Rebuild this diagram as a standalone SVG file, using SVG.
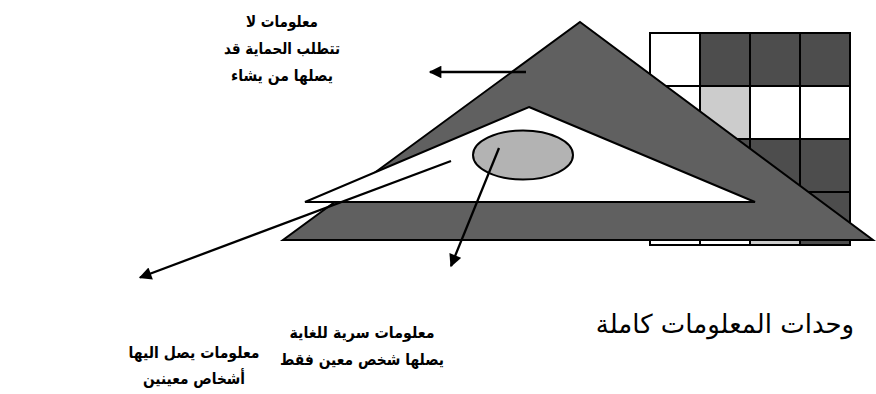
<svg xmlns="http://www.w3.org/2000/svg" width="876" height="394" viewBox="0 0 876 394">
<style>
.cell{stroke:#000;stroke-width:2}
.dk{fill:#4d4d4d}.lt{fill:#cccccc}.wh{fill:#fff}
.lbl{font-family:"DejaVu Sans","Liberation Sans",sans-serif;font-weight:bold;font-size:16px;fill:#000;text-anchor:middle}
.big{font-family:"DejaVu Sans","Liberation Sans",sans-serif;font-size:26px;fill:#000;text-anchor:middle}
.conn{stroke:#000;stroke-width:2.3;fill:none}
</style>
<defs>
<marker id="ah" viewBox="0 0 10 10" refX="9" refY="5" markerWidth="6.5" markerHeight="5.5" markerUnits="strokeWidth" orient="auto">
<path d="M0,0 L10,5 L0,10 Z" fill="#000"/>
</marker>
</defs>
<rect width="876" height="394" fill="#fff"/>
<g id="grid">
<rect class="cell wh" x="650" y="33" width="50" height="53"/>
<rect class="cell dk" x="700" y="33" width="50" height="53"/>
<rect class="cell dk" x="750" y="33" width="50" height="53"/>
<rect class="cell dk" x="800" y="33" width="50" height="53"/>
<rect class="cell wh" x="650" y="86" width="50" height="53"/>
<rect class="cell lt" x="700" y="86" width="50" height="53"/>
<rect class="cell wh" x="750" y="86" width="50" height="53"/>
<rect class="cell wh" x="800" y="86" width="50" height="53"/>
<rect class="cell wh" x="650" y="139" width="50" height="53"/>
<rect class="cell dk" x="700" y="139" width="50" height="53"/>
<rect class="cell dk" x="750" y="139" width="50" height="53"/>
<rect class="cell dk" x="800" y="139" width="50" height="53"/>
<rect class="cell wh" x="650" y="192" width="50" height="53"/>
<rect class="cell wh" x="700" y="192" width="50" height="53"/>
<rect class="cell lt" x="750" y="192" width="50" height="53"/>
<rect class="cell dk" x="800" y="192" width="50" height="53"/>
</g>
<g id="outer-triangle">
<polygon points="580,22 873,240 283,240" fill="#606060" stroke="#000" stroke-width="2" stroke-linejoin="miter"/>
</g>
<g id="inner-triangle">
<polygon points="529,107 755,202 305,202" fill="#fff" stroke="#000" stroke-width="2"/>
</g>
<g id="ellipse">
<ellipse cx="523" cy="155" rx="50" ry="24.5" fill="#b3b3b3" stroke="#000" stroke-width="2"/>
</g>
<g id="connectors">
<line class="conn" x1="526" y1="72" x2="430" y2="72" marker-end="url(#ah)"/>
<line class="conn" x1="451" y1="161" x2="140" y2="277.5" marker-end="url(#ah)"/>
<line class="conn" x1="499" y1="148" x2="451" y2="266" marker-end="url(#ah)"/>
</g>
<g id="label-public">
<text class="lbl" x="282" y="27" textLength="72" lengthAdjust="spacingAndGlyphs">معلومات لا</text>
<text class="lbl" x="282" y="54" textLength="116" lengthAdjust="spacingAndGlyphs">تتطلب الحماية قد</text>
<text class="lbl" x="282" y="81" textLength="102" lengthAdjust="spacingAndGlyphs">يصلها من يشاء</text>
</g>
<g id="label-restricted">
<text class="lbl" x="194" y="358" textLength="131" lengthAdjust="spacingAndGlyphs">معلومات يصل اليها</text>
<text class="lbl" x="194" y="384" textLength="102" lengthAdjust="spacingAndGlyphs">أشخاص معينين</text>
</g>
<g id="label-secret">
<text class="lbl" x="362" y="338" textLength="145" lengthAdjust="spacingAndGlyphs">معلومات سرية للغاية</text>
<text class="lbl" x="362" y="365" textLength="164" lengthAdjust="spacingAndGlyphs">يصلها شخص معين فقط</text>
</g>
<g id="label-units">
<text class="big" x="725" y="333">وحدات المعلومات كاملة</text>
</g>
</svg>
